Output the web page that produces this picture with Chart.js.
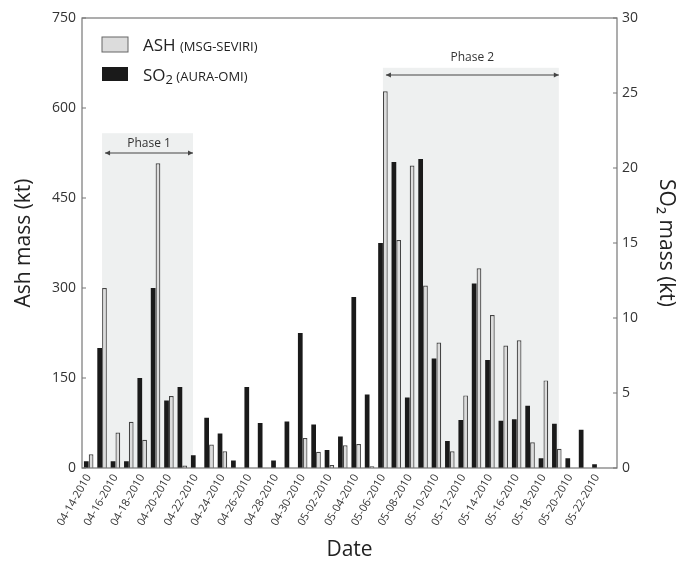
<!DOCTYPE html>
<html lang="en">
<head>
<meta charset="utf-8">
<title>Ash and SO2 mass</title>
<script src="https://cdn.jsdelivr.net/npm/chart.js@4.4.0/dist/chart.umd.min.js"></script>
<style>
  html, body { margin: 0; padding: 0; background: #fff; }
</style>
</head>
<body>
<canvas id="myChart" width="676" height="563"></canvas>
<script>
// one category per day, 04-14 .. 05-23
const days = ['04-14-2010','04-15-2010','04-16-2010','04-17-2010','04-18-2010','04-19-2010','04-20-2010','04-21-2010',
  '04-22-2010','04-23-2010','04-24-2010','04-25-2010','04-26-2010','04-27-2010','04-28-2010','04-29-2010',
  '04-30-2010','05-01-2010','05-02-2010','05-03-2010','05-04-2010','05-05-2010','05-06-2010','05-07-2010',
  '05-08-2010','05-09-2010','05-10-2010','05-11-2010','05-12-2010','05-13-2010','05-14-2010','05-15-2010',
  '05-16-2010','05-17-2010','05-18-2010','05-19-2010','05-20-2010','05-21-2010','05-22-2010','05-23-2010'];

// ash mass (kt), MSG-SEVIRI
const ash = [23, 300, 59, 77, 47, 508, 120, 4, 0, 39, 28, 0, 0, 0, 0, 0, 50, 27, 5, 38,
  40, 3, 628, 380, 504, 304, 209, 28, 121, 333, 255, 204, 213, 43, 146, 32, 0, 0, 0, 0];

// SO2 mass (kt), AURA-OMI
const so2 = [0.45, 8.0, 0.45, 0.45, 6.0, 12.0, 4.5, 5.4, 0.85, 3.35, 2.3, 0.5, 5.4, 3.0, 0.5, 3.1,
  9.0, 2.9, 1.2, 2.1, 11.4, 4.9, 15.0, 20.4, 4.7, 20.6, 7.3, 1.8, 3.2, 12.3, 7.2, 3.15,
  3.25, 4.15, 0.65, 2.95, 0.65, 2.55, 0.25, 0];

const ashTicks = [0, 150, 300, 450, 600, 750];
const so2Ticks = [0, 5, 10, 15, 20, 25, 30];

// shaded phases: day index range, top of shading / arrow / label in ash units
const phases = [
  { name: 'Phase 1', from: 1.0, to: 7.8, top: 558, arrow: 525, label: 540 },
  { name: 'Phase 2', from: 22.0, to: 35.15, top: 667, arrow: 655, label: 684 }
];

const FONT = '"Open Sans", "Noto Sans", sans-serif';

function arrowHead(ctx, x, y, dir) {
  ctx.beginPath();
  ctx.moveTo(x, y);
  ctx.lineTo(x - dir * 5, y - 2.5);
  ctx.lineTo(x - dir * 5, y + 2.5);
  ctx.closePath();
  ctx.fill();
}

const decor = {
  id: 'decor',
  beforeDatasetsDraw(chart) {
    const { ctx, chartArea: a, scales: { x, y } } = chart;
    ctx.save();
    ctx.fillStyle = '#eef0f0';
    phases.forEach(p => {
      const l = x.getPixelForValue(p.from), r = x.getPixelForValue(p.to);
      const t = y.getPixelForValue(p.top);
      ctx.fillRect(l, t, r - l, a.bottom - t);
    });
    ctx.restore();
  },
  afterDraw(chart) {
    const { ctx, chartArea: a, scales: { x, y, y1 } } = chart;
    ctx.save();
    // frame
    ctx.strokeStyle = '#777';
    ctx.lineWidth = 1.2;
    ctx.strokeRect(a.left, a.top, a.right - a.left, a.bottom - a.top);
    // inner tick marks
    ctx.beginPath();
    y.ticks.forEach((t, i) => {
      const py = y.getPixelForTick(i);
      ctx.moveTo(a.left, py); ctx.lineTo(a.left + 4, py);
    });
    y1.ticks.forEach((t, i) => {
      const py = y1.getPixelForTick(i);
      ctx.moveTo(a.right - 4, py); ctx.lineTo(a.right, py);
    });
    ctx.stroke();

    // phase arrows and labels
    ctx.strokeStyle = '#444';
    ctx.fillStyle = '#444';
    ctx.lineWidth = 1;
    ctx.font = '12px ' + FONT;
    ctx.textAlign = 'center';
    ctx.textBaseline = 'middle';
    phases.forEach(p => {
      const l = x.getPixelForValue(p.from) + 3, r = x.getPixelForValue(p.to);
      const ay = y.getPixelForValue(p.arrow);
      ctx.beginPath(); ctx.moveTo(l, ay); ctx.lineTo(r, ay); ctx.stroke();
      arrowHead(ctx, l, ay, -1);
      arrowHead(ctx, r, ay, 1);
      ctx.fillStyle = '#333';
      ctx.fillText(p.name, (l + r) / 2, y.getPixelForValue(p.label));
      ctx.fillStyle = '#444';
    });

    // legend
    const lx = a.left + 20, ly = a.top + 19;
    ctx.fillStyle = '#dcdcdc';
    ctx.strokeStyle = '#666';
    ctx.fillRect(lx, ly, 26, 15);
    ctx.strokeRect(lx, ly, 26, 15);
    ctx.fillStyle = '#1a1a1a';
    ctx.fillRect(lx, ly + 30, 26, 14);
    ctx.textAlign = 'left';
    ctx.textBaseline = 'alphabetic';
    ctx.fillStyle = '#222';
    let tx = lx + 41;
    ctx.font = '17px ' + FONT;
    ctx.fillText('ASH', tx, ly + 14);
    tx += ctx.measureText('ASH ').width;
    ctx.font = '13px ' + FONT;
    ctx.fillText('(MSG-SEVIRI)', tx, ly + 14);
    tx = lx + 41;
    ctx.font = '17px ' + FONT;
    ctx.fillText('SO', tx, ly + 44);
    tx += ctx.measureText('SO').width;
    ctx.font = '13px ' + FONT;
    ctx.fillText('2', tx, ly + 47);
    tx += ctx.measureText('2 ').width;
    ctx.fillText('(AURA-OMI)', tx, ly + 44);
    ctx.restore();
  }
};

new Chart(document.getElementById('myChart'), {
  type: 'bar',
  data: {
    labels: days,
    datasets: [
      {
        label: 'SO2 (AURA-OMI)',
        data: so2,
        yAxisID: 'y1',
        backgroundColor: '#1a1a1a',
        borderWidth: 0,
        barPercentage: 0.98,
        categoryPercentage: 0.72
      },
      {
        label: 'ASH (MSG-SEVIRI)',
        data: ash,
        yAxisID: 'y',
        backgroundColor: '#dcdcdc',
        borderColor: '#444',
        borderWidth: 1.2,
        barPercentage: 0.98,
        categoryPercentage: 0.72
      }
    ]
  },
  options: {
    responsive: false,
    animation: false,
    layout: { padding: { top: 18, left: 0, right: 0, bottom: 0 } },
    plugins: { legend: { display: false }, tooltip: { enabled: false } },
    scales: {
      x: {
        offset: true,
        grid: { display: false, drawTicks: false },
        border: { display: false },
        afterFit: s => { s.height = 95; },
        ticks: {
          autoSkip: false,
          minRotation: 60,
          maxRotation: 60,
          padding: 4,
          color: '#333',
          font: { family: FONT, size: 11 },
          callback: (v, i) => (i % 2 === 0 ? days[i] : '')
        },
        title: {
          display: true, text: 'Date', color: '#222',
          font: { family: FONT, size: 21 }, padding: { top: 0, bottom: 0 }
        }
      },
      y: {
        position: 'left',
        min: 0, max: 750,
        afterBuildTicks: s => { s.ticks = ashTicks.map(v => ({ value: v })); },
        afterFit: s => { s.width = 82; },
        grid: { display: false, drawTicks: false },
        border: { display: false },
        ticks: { padding: 6, color: '#333', font: { family: FONT, size: 14 } },
        title: {
          display: true, text: 'Ash mass (kt)', color: '#222',
          font: { family: FONT, size: 21, lineHeight: 1 }, padding: { top: 14, bottom: 0 }
        }
      },
      y1: {
        position: 'right',
        min: 0, max: 30,
        afterBuildTicks: s => { s.ticks = so2Ticks.map(v => ({ value: v })); },
        afterFit: s => { s.width = 59; },
        grid: { display: false, drawTicks: false },
        border: { display: false },
        ticks: { padding: 5, color: '#333', font: { family: FONT, size: 14 } },
        title: {
          display: true, text: 'SO₂ mass (kt)', color: '#222',
          font: { family: FONT, size: 21, lineHeight: 1 }, padding: { top: 0, bottom: 1 }
        }
      }
    }
  },
  plugins: [decor]
});
</script>
</body>
</html>
